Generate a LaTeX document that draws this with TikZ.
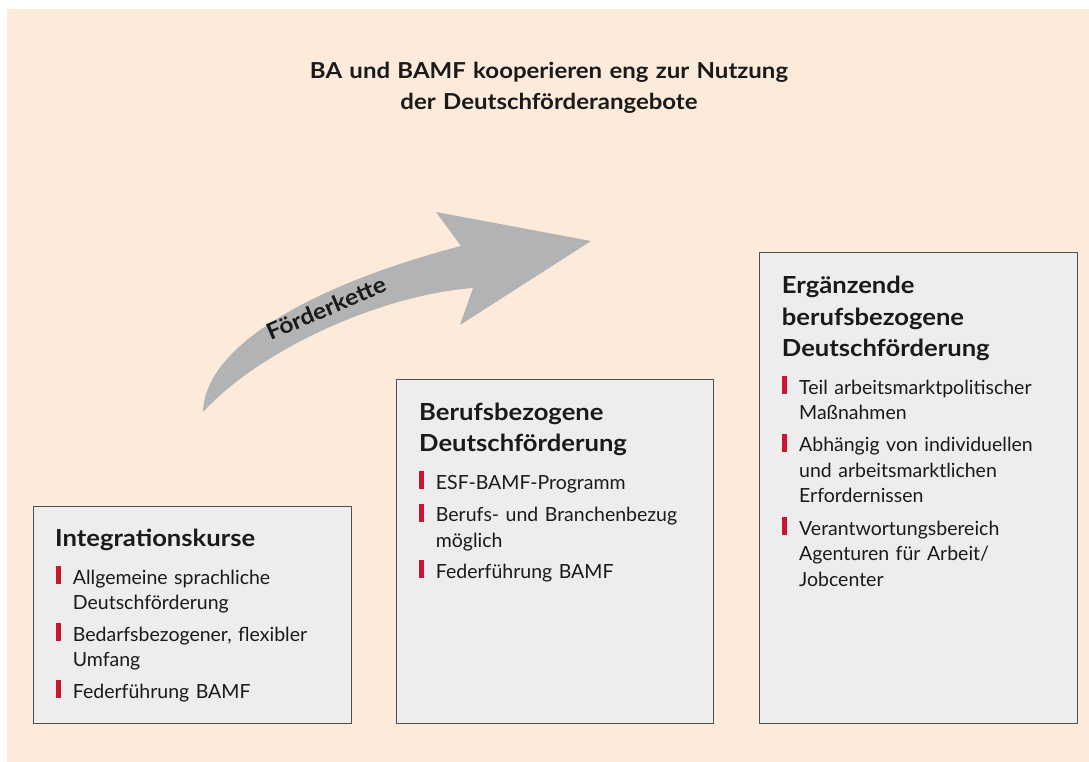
\documentclass[tikz,border=0pt]{standalone}
\usepackage{fontspec}
\setmainfont{Lato}[BoldFeatures={FakeStretch=1.09}]
\definecolor{peach}{RGB}{252,234,219}
\definecolor{boxfill}{RGB}{236,237,236}
\definecolor{boxline}{RGB}{80,80,80}
\definecolor{arrowgray}{RGB}{177,179,180}
\definecolor{bulletred}{RGB}{200,22,48}
\definecolor{txt}{RGB}{26,26,26}
\tikzset{
  panel/.style={draw=boxline, line width=1.3pt, fill=boxfill, anchor=north west, inner sep=0pt},
  headtext/.style={anchor=base west, inner sep=0pt, text=txt, align=left, text width=290pt,
    font=\fontsize{23.5}{31.7}\selectfont\bfseries},
  itemtext/.style={anchor=base west, inner sep=0pt, text=txt, align=left, text width=270pt,
    font=\fontsize{19.5}{25.6}\selectfont},
  bar/.style={fill=bulletred, anchor=south west, inner sep=0pt, minimum width=4.7pt, minimum height=17.7pt},
  titletext/.style={anchor=base, inner sep=0pt, text=txt, align=center, text width=600pt,
    font=\fontsize{22}{30.3}\selectfont\bfseries},
}
\begin{document}
\begin{tikzpicture}[x=1pt,y=-1pt]
\useasboundingbox (0,0) rectangle (1089,762);
\fill[peach] (7,9) rectangle (1089,762);

% title
\node[titletext] (title) at (549,79) {BA und BAMF kooperieren eng zur Nutzung\\der Deutschförderangebote};

% arrow
\fill[arrowgray] (203,412) .. controls (205,340) and (330,280) .. (461,246)
  -- (436,212) -- (591,241) -- (460,325) -- (473,288)
  .. controls (380,295) and (260,350) .. (203,412) -- cycle;
\node[rotate=23, text=txt, inner sep=0pt, font=\fontsize{22.5}{26}\selectfont\bfseries] (fk) at (326,308) {Förderkette};

% boxes
\node[panel, minimum width=318pt, minimum height=217pt] (b1) at (33,506) {};
\node[panel, minimum width=317pt, minimum height=344pt] (b2) at (396,379) {};
\node[panel, minimum width=318pt, minimum height=471pt] (b3) at (759,252) {};

% box 1
\node[headtext] (h1) at (55,546.7) {Integrationskurse};
\node[bar] (r11) at (56,584.3) {};
\node[itemtext] (t11) at (72.7,584.3) {Allgemeine sprachliche\\Deutschförderung};
\node[bar] (r12) at (56,641) {};
\node[itemtext] (t12) at (72.7,641) {Bedarfsbezogener, flexibler\\Umfang};
\node[bar] (r13) at (56,698.3) {};
\node[itemtext] (t13) at (72.7,698.3) {Federführung BAMF};

% box 2
\node[headtext] (h2) at (419,420) {Berufsbezogene\\Deutschförderung};
\node[bar] (r21) at (419,489) {};
\node[itemtext] (t21) at (435.7,489) {ESF-BAMF-Programm};
\node[bar] (r22) at (419,521.7) {};
\node[itemtext] (t22) at (435.7,521.7) {Berufs- und Branchenbezug\\möglich};
\node[bar] (r23) at (419,578.3) {};
\node[itemtext] (t23) at (435.7,578.3) {Federführung BAMF};

% box 3
\node[headtext] (h3) at (781.7,293.3) {Ergänzende\\berufsbezogene\\Deutschförderung};
\node[bar] (r31) at (781.7,394) {};
\node[itemtext] (t31) at (799,394) {Teil arbeitsmarktpolitischer\\Maßnahmen};
\node[bar] (r32) at (781.7,451.7) {};
\node[itemtext] (t32) at (799,451.7) {Abhängig von individuellen\\und arbeitsmarktlichen\\Erfordernissen};
\node[bar] (r33) at (781.7,535) {};
\node[itemtext] (t33) at (799,535) {Verantwortungsbereich\\Agenturen für Arbeit/\\Jobcenter};
\end{tikzpicture}
\end{document}
